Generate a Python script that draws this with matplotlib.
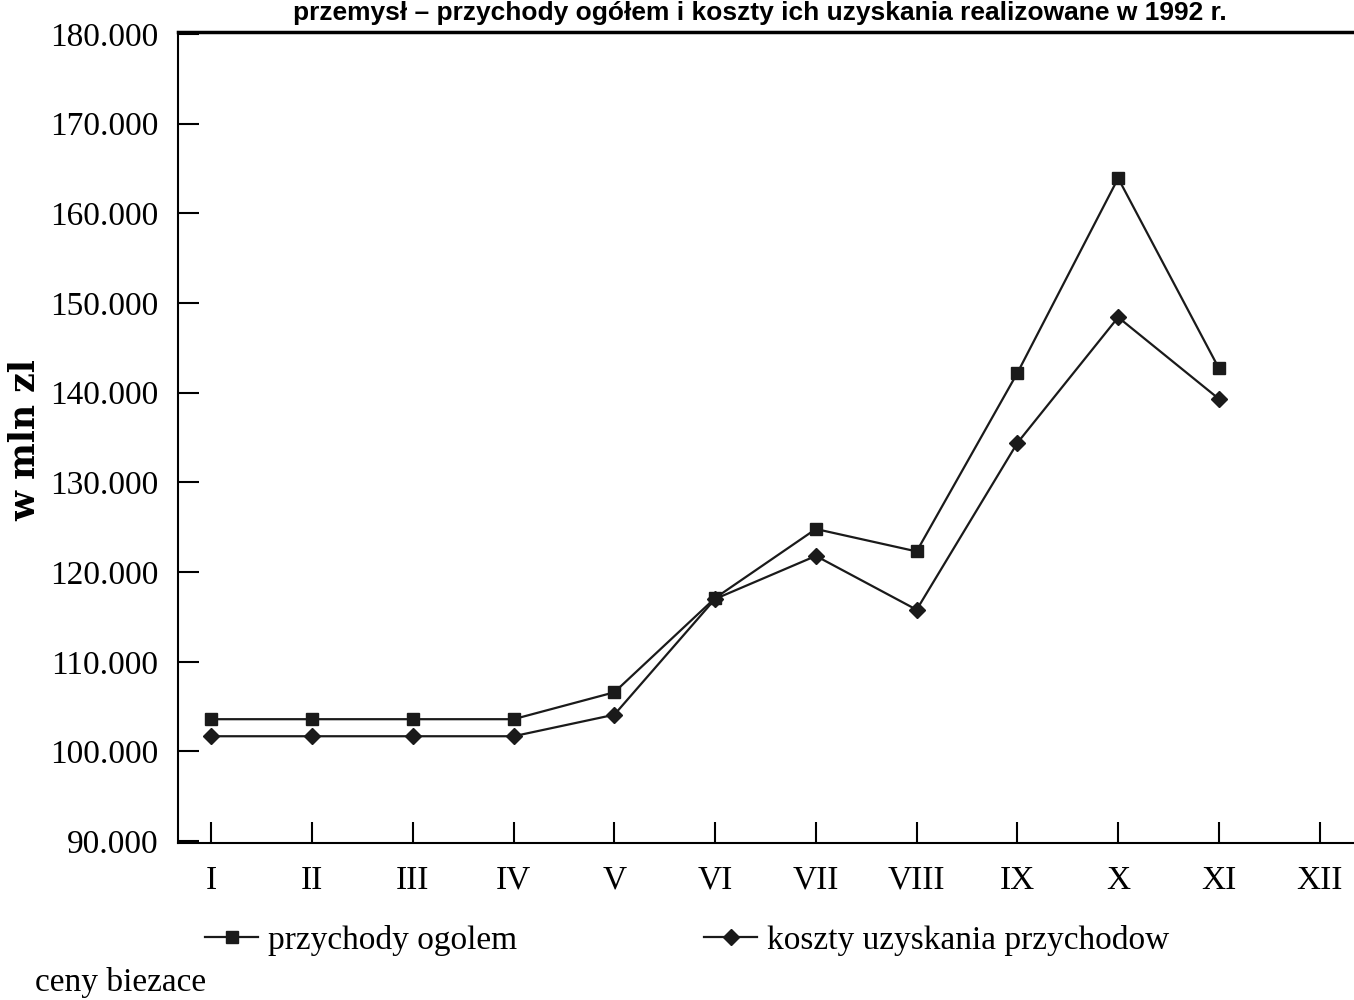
import matplotlib.pyplot as plt

months = ['I', 'II', 'III', 'IV', 'V', 'VI', 'VII', 'VIII', 'IX', 'X', 'XI', 'XII']
przychody = [103.6, 103.6, 103.6, 103.6, 106.6, 117.1, 124.8, 122.3, 142.2, 163.9, 142.7]
koszty = [101.7, 101.7, 101.7, 101.7, 104.1, 117.0, 121.8, 115.8, 134.4, 148.4, 139.3]
yticks = [90, 100, 110, 120, 130, 140, 150, 160, 170, 180]
ytick_labels = ['90.000', '100.000', '110.000', '120.000', '130.000', '140.000',
                '150.000', '160.000', '170.000', '180.000']

serif = 'Liberation Serif'

fig = plt.figure(figsize=(13.54, 10), dpi=100)
ax = fig.add_axes([178 / 1354, 157 / 1000, 1180 / 1354, 811 / 1000])

x1 = list(range(len(przychody)))
x2 = list(range(len(koszty)))
ax.plot(x1, przychody, color='#1a1a1a', lw=1.6, marker='s', ms=9,
        label='przychody ogolem')
ax.plot(x2, koszty, color='#1a1a1a', lw=1.6, marker='D', ms=8,
        label='koszty uzyskania przychodow')

ax.set_xlim(-0.33, 11.38)
ax.set_ylim(89.8, 180.2)
ax.set_xticks(range(len(months)))
ax.set_xticklabels(months, fontfamily=serif, fontsize=24)
ax.set_yticks(yticks)
ax.set_yticklabels(ytick_labels, fontfamily=serif, fontsize=24)
ax.tick_params(direction='in', length=15, width=1.5)
ax.tick_params(axis='x', pad=16)
ax.tick_params(axis='y', pad=14)

ax.spines['right'].set_visible(False)
ax.spines['left'].set_linewidth(1.5)
ax.spines['bottom'].set_linewidth(1.5)
ax.spines['top'].set_linewidth(2.5)

fig.text(25 / 1354, 0.56, 'w mln zl', rotation=90, ha='center', va='center',
         fontfamily='DejaVu Serif', fontweight='bold', fontsize=25)

fig.legend(loc='center left', bbox_to_anchor=(205 / 1354, 0.06), ncol=2,
           frameon=False, prop={'family': serif, 'size': 24},
           handlelength=1.6, handletextpad=0.3, columnspacing=5.6,
           borderaxespad=0, borderpad=0)

fig.text(35 / 1354, 0.018, 'ceny biezace', ha='left', va='center',
         fontfamily=serif, fontsize=24)

fig.text(760 / 1354, 0.999, 'przemysł – przychody ogółem i koszty ich uzyskania realizowane w 1992 r.',
         ha='center', va='top', fontfamily='Liberation Sans', fontweight='bold',
         fontsize=19)

fig.savefig('out.png', dpi=100)
